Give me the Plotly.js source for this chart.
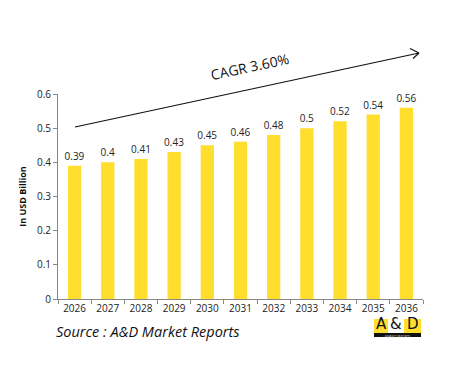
<!DOCTYPE html>
<html>
<head>
<meta charset="utf-8">
<script src="https://cdn.plot.ly/plotly-3.0.1.min.js"></script>
<style>html,body{margin:0;padding:0;background:#fff;}#chart{width:452px;height:378px;}</style>
</head>
<body>
<div id="chart"></div>
<script>
var years = ['2026','2027','2028','2029','2030','2031','2032','2033','2034','2035','2036'];
var values = [0.39, 0.4, 0.41, 0.43, 0.45, 0.46, 0.48, 0.5, 0.52, 0.54, 0.56];
var valueLabels = ['0.39','0.4','0.41','0.43','0.45','0.46','0.48','0.5','0.52','0.54','0.56'];
var yTicks = [0, 0.1, 0.2, 0.3, 0.4, 0.5, 0.6];
var cagrText = 'CAGR 3.60%';
var sourceText = 'Source : A&D Market Reports';

var L = 58, R = 423, T = 94, B = 299;
function px(x){ return (x - L) / (R - L); }
function py(y){ return (B - y) / (B - T); }
var FONT = '"Open Sans", "DejaVu Sans", sans-serif';

var trace = {
  type: 'bar',
  x: years,
  y: values,
  text: valueLabels,
  textposition: 'outside',
  constraintext: 'none',
  cliponaxis: false,
  textfont: {family: FONT, size: 10, color: '#222'},
  marker: {color: '#FFDE2E'},
  hoverinfo: 'none'
};

var lineStyle = {color: '#111', width: 1.2};
var shapes = [
  {type:'line', xref:'paper', yref:'paper', x0:px(75), y0:py(127), x1:px(419), y1:py(53), line:lineStyle},
  {type:'line', xref:'paper', yref:'paper', x0:px(410), y0:py(48.5), x1:px(419), y1:py(53), line:lineStyle},
  {type:'line', xref:'paper', yref:'paper', x0:px(413), y0:py(58.5), x1:px(419), y1:py(53), line:lineStyle},
  // logo
  {type:'rect', xref:'paper', yref:'paper', x0:px(374), x1:px(388), y0:py(333), y1:py(319), fillcolor:'#FFDE2E', line:{width:0}},
  {type:'rect', xref:'paper', yref:'paper', x0:px(404), x1:px(421), y0:py(333), y1:py(319), fillcolor:'#FFDE2E', line:{width:0}},
  {type:'rect', xref:'paper', yref:'paper', x0:px(374), x1:px(421), y0:py(337), y1:py(333), fillcolor:'#111', line:{width:0}}
];

var logoFont = {family:'"DejaVu Sans", sans-serif', size:15, color:'#111'};
var annotations = [
  {xref:'paper', yref:'paper', x:px(250), y:py(66), text:cagrText, showarrow:false, textangle:-12,
   font:{family:FONT, size:14, color:'#111'}, xanchor:'center', yanchor:'middle'},
  {xref:'paper', yref:'paper', x:px(54), y:py(331), text:'<i>' + sourceText + '</i>', showarrow:false,
   font:{family:FONT, size:14.5, color:'#111'}, xanchor:'left', yanchor:'middle'},
  {xref:'paper', yref:'paper', x:px(381), y:py(333.5), text:'A', showarrow:false, borderpad:0,
   font:logoFont, xanchor:'center', yanchor:'bottom'},
  {xref:'paper', yref:'paper', x:px(396), y:py(333.5), text:'&', showarrow:false, borderpad:0,
   font:logoFont, xanchor:'center', yanchor:'bottom'},
  {xref:'paper', yref:'paper', x:px(412.5), y:py(333.5), text:'D', showarrow:false, borderpad:0,
   font:logoFont, xanchor:'center', yanchor:'bottom'},
  {xref:'paper', yref:'paper', x:px(397.5), y:py(333.5), text:'MARKET REPORTS', showarrow:false, borderpad:0,
   font:{family:FONT, size:3, color:'#ddd'}, xanchor:'center', yanchor:'top'}
];

var layout = {
  width: 452, height: 378,
  margin: {l: L, r: 452 - R, t: T, b: 378 - B, pad: 0},
  paper_bgcolor: '#fff', plot_bgcolor: '#fff',
  showlegend: false,
  bargap: 0.6,
  font: {family: FONT, size: 10, color: '#222'},
  xaxis: {
    type: 'category',
    showline: true, linecolor: '#888', linewidth: 1,
    ticks: 'outside', ticklen: 4, tickcolor: '#888', tickson: 'boundaries',
    showgrid: false, zeroline: false,
    tickfont: {family: FONT, size: 10, color: '#222'}
  },
  yaxis: {
    range: [0, 0.6],
    tickvals: yTicks,
    ticktext: yTicks.map(function(v){ return String(v); }),
    showline: true, linecolor: '#888', linewidth: 1,
    ticks: 'outside', ticklen: 4, tickcolor: '#888',
    showgrid: false, zeroline: false,
    tickfont: {family: FONT, size: 10, color: '#222'},
    title: {text: '<b>In USD Billion</b>', font: {family: FONT, size: 9, color: '#111'}, standoff: 8}
  },
  shapes: shapes,
  annotations: annotations
};

Plotly.newPlot('chart', [trace], layout, {displayModeBar: false, staticPlot: true});
</script>
</body>
</html>
